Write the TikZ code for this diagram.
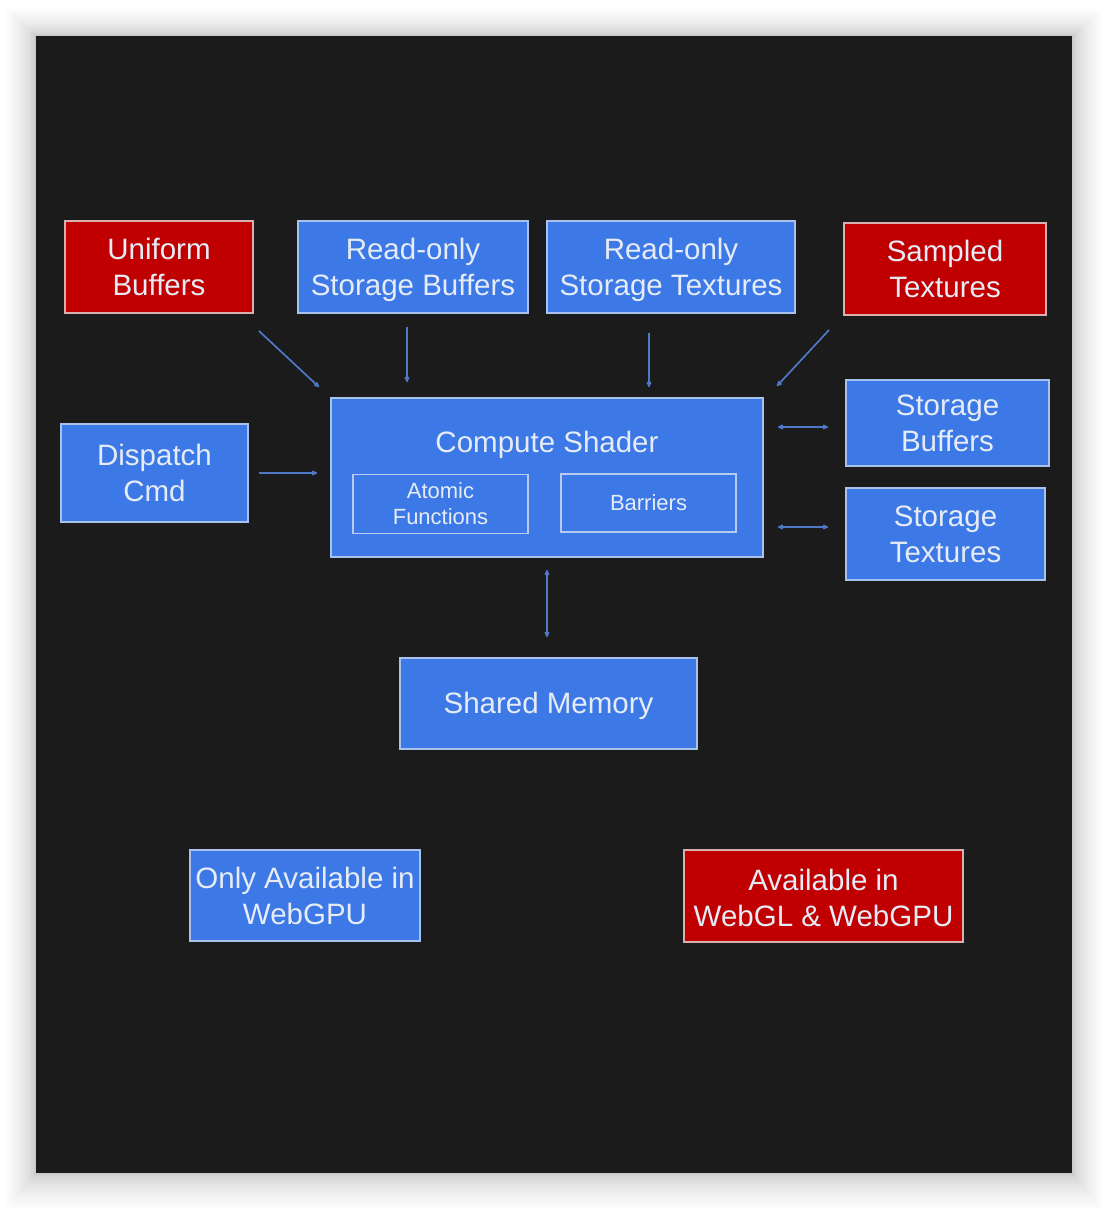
\documentclass[tikz,border=0pt]{standalone}
\usepackage{fontspec}
\setmainfont{Liberation Sans}
\usetikzlibrary{arrows.meta}
\definecolor{bg}{HTML}{1B1B1B}
\definecolor{boxblue}{HTML}{3C78E6}
\definecolor{boxred}{HTML}{C00000}
\definecolor{edgeblue}{HTML}{A9C2EC}
\definecolor{edgered}{HTML}{D9B0B0}
\definecolor{txt}{HTML}{E6ECF6}
\definecolor{arrcol}{HTML}{5078C8}
\newcommand\ftop{\rule{0pt}{29.2pt}}
\newcommand\fbot{\rule[-8pt]{0pt}{0pt}}
\tikzset{
  bluebox/.style={draw=edgeblue, line width=1.8pt, fill=boxblue, text=txt, align=center, inner sep=0pt,
    font=\fontsize{29.5}{36}\selectfont},
  redbox/.style={bluebox, draw=edgered, fill=boxred},
  innerbox/.style={draw=edgeblue!85!white, line width=1.5pt, fill=boxblue, text=txt, align=center, inner sep=0pt,
    font=\fontsize{22}{26}\selectfont},
  conn/.style={draw=arrcol, line width=1.7pt, -{Latex[length=7pt,width=6pt,round]}},
  conn2/.style={conn, {Latex[length=7pt,width=6pt,round]}-{Latex[length=7pt,width=6pt,round]}},
}
\begin{document}
\begin{tikzpicture}[x=1pt,y=-1pt]
\useasboundingbox (0,0) rectangle (1108,1210);
\fill[white] (0,0) rectangle (1108,1210);
% soft shadow
\foreach \i in {1,...,20}{
  \pgfmathsetmacro\d{0.075*\i*\i}
  \fill[black, opacity=0.012] (36-\d,36-0.9*\d) rectangle (1072+\d,1173+1.2*\d);
}
\fill[bg] (36,36) rectangle (1072,1173);

% top row
\node[redbox, minimum width=188pt, minimum height=92pt] (ub) at (159,267) {\ftop Uniform\\Buffers\fbot};
\node[bluebox, minimum width=230pt, minimum height=92pt] (rsb) at (413,267) {\ftop Read-only\\Storage Buffers\fbot};
\node[bluebox, minimum width=248pt, minimum height=92pt] (rst) at (671,267) {\ftop Read-only\\Storage Textures\fbot};
\node[redbox, minimum width=202pt, minimum height=92pt] (st) at (945,269) {\ftop Sampled\\Textures\fbot};

% compute shader
\node[bluebox, minimum width=432pt, minimum height=159pt] (cs) at (547,477.5) {};
\node[text=txt, font=\fontsize{29.5}{36}\selectfont, anchor=base] (cst) at (547,452) {Compute Shader};
\node[innerbox, minimum width=175pt, minimum height=59pt] (af) at (440.5,504) {Atomic\\Functions};
\node[innerbox, minimum width=175pt, minimum height=58pt] (ba) at (648.5,503) {Barriers};

% side boxes
\node[bluebox, minimum width=187pt, minimum height=98pt] (dc) at (154.5,473) {\ftop Dispatch\\Cmd\fbot};
\node[bluebox, minimum width=203pt, minimum height=86pt] (sbuf) at (947.5,423) {\ftop Storage\\Buffers\fbot};
\node[bluebox, minimum width=199pt, minimum height=92pt] (stex) at (945.5,534) {\ftop Storage\\Textures\fbot};

% shared memory
\node[bluebox, minimum width=297pt, minimum height=91pt] (sm) at (548.5,703.5) {\rule{0pt}{26.5pt}Shared Memory};

% legend
\node[bluebox, minimum width=230pt, minimum height=91pt] (l1) at (305,895.5) {\ftop Only Available in\\WebGPU\fbot};
\node[redbox, minimum width=279pt, minimum height=92pt] (l2) at (823.5,896) {\rule{0pt}{33pt}Available in\\WebGL \& WebGPU\fbot};

% connectors
\draw[conn] ([xshift=5pt,yshift=-17pt]ub.south east) -- ([xshift=-11pt,yshift=10pt]cs.north west);
\draw[conn] ([xshift=-6pt,yshift=-13pt]rsb.south) -- ([xshift=-6pt,yshift=15pt]rsb.south |- cs.north);
\draw[conn] ([xshift=-22pt,yshift=-19pt]rst.south) -- ([xshift=-22pt,yshift=10pt]rst.south |- cs.north);
\draw[conn] ([xshift=-14pt,yshift=-14pt]st.south west) -- ([xshift=13pt,yshift=11pt]cs.north east);
\draw[conn] ([xshift=10pt]dc.east) -- ([xshift=-13pt]cs.west |- dc.east);
\draw[conn2] ([xshift=14pt,yshift=-4pt]cs.east |- sbuf.west) -- ([xshift=-17pt,yshift=-4pt]sbuf.west);
\draw[conn2] ([xshift=14pt,yshift=7pt]cs.east |- stex.west) -- ([xshift=-17pt,yshift=7pt]stex.west);
\draw[conn2] ([yshift=-12pt]cs.south) -- ([yshift=20pt]cs.south |- sm.north);
\end{tikzpicture}
\end{document}
